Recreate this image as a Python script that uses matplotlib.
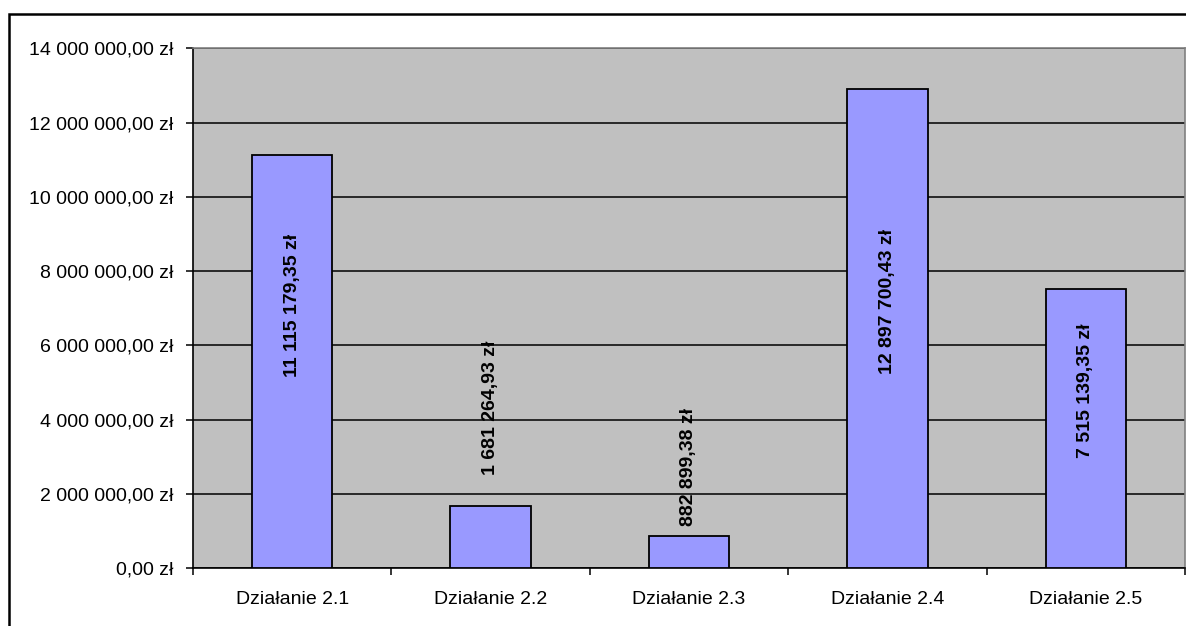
import matplotlib
matplotlib.use('Agg')
from matplotlib import pyplot as plt
from matplotlib.patches import Rectangle
from matplotlib.ticker import FuncFormatter, MultipleLocator
import numpy as np

categories = ['Działanie 2.1', 'Działanie 2.2', 'Działanie 2.3',
              'Działanie 2.4', 'Działanie 2.5']
values = [11115179.35, 1681264.93, 882899.38, 12897700.43, 7515139.35]

# where Excel put the rotated value labels (centre, in zł)
label_centres = [7080000, 4330000, 2720000, 7190000, 4790000]


def pln(v, decimals=2):
    s = f'{v:,.{decimals}f}'
    s = s.replace(',', ' ').replace('.', ',')
    return s + ' zł'


def main():
    plt.rcParams['font.family'] = ['Liberation Sans', 'DejaVu Sans']
    plt.rcParams['font.size'] = 14

    fig = plt.figure(figsize=(11.86, 6.26), dpi=100)
    fig.patch.set_facecolor('white')

    # outer chart frame (runs off the right/bottom edge like the original)
    fig.patches.append(Rectangle((9 / 1186, -0.1), 1.2, (626 - 14) / 626 + 0.1,
                                 transform=fig.transFigure, fill=False,
                                 edgecolor='black', linewidth=1.8, zorder=10))

    ax = fig.add_axes([193 / 1186, (626 - 568.3) / 626,
                       (1185 - 193) / 1186, (568.3 - 48.3) / 626])
    ax.set_facecolor('#C0C0C0')

    x = np.arange(len(categories))
    ax.bar(x, values, width=0.405, color='#9999FF', edgecolor='black',
           linewidth=1.3, zorder=3)

    for xi, v, yc in zip(x, values, label_centres):
        ax.text(xi, yc, pln(v), rotation=90, ha='center', va='center',
                fontweight='bold', fontsize=14, zorder=4)

    ax.set_xlim(-0.5, len(categories) - 0.5)
    ax.set_ylim(0, 14000000)
    ax.yaxis.set_major_locator(MultipleLocator(2000000))
    ax.yaxis.set_major_formatter(FuncFormatter(lambda v, p: pln(v)))
    ax.grid(axis='y', color='black', linewidth=1.1, zorder=1)
    ax.set_axisbelow(True)

    ax.set_xticks(x)
    ax.set_xticklabels(categories)
    ax.set_xticks(np.arange(len(categories) + 1) - 0.5, minor=True)
    ax.tick_params(axis='x', which='major', length=0, pad=16)
    ax.tick_params(axis='x', which='minor', length=5, width=1.1, direction='out')
    ax.tick_params(axis='y', length=5, width=1.1, direction='out', pad=9)

    for side in ['top', 'right']:
        ax.spines[side].set_color('#808080')
        ax.spines[side].set_linewidth(1.2)
    for side in ['left', 'bottom']:
        ax.spines[side].set_color('black')
        ax.spines[side].set_linewidth(1.2)

    fig.savefig('out.png', dpi=100)


if __name__ == '__main__':
    main()
